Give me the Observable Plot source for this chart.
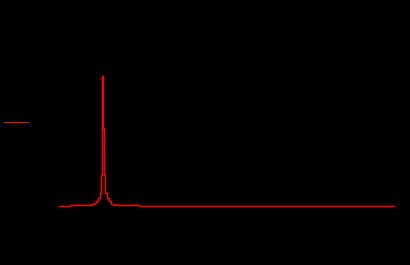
<!DOCTYPE html>
<html>
<head>
<meta charset="utf-8">
<script src="https://cdn.jsdelivr.net/npm/d3@7"></script>
<script src="https://cdn.jsdelivr.net/npm/@observablehq/plot@0.6"></script>
<style>
  html, body { margin: 0; padding: 0; background: #000; }
  #wrap { position: relative; width: 410px; height: 265px; background: #000; }
  #legend { position: absolute; left: 4px; top: 122px; width: 25px; height: 0; border-top: 1.5px solid #ff0000; }
</style>
</head>
<body>
<div id="wrap"><div id="legend"></div></div>
<script>
const freq  = [0, 3.28, 9.85, 10.45, 11.04, 11.64, 12.24, 12.54, 12.84, 13.13, 13.43, 13.73, 14.33, 14.93, 15.52, 16.42, 23.88, 100];
const power = [0, 0.008, 0.015, 0.023, 0.038, 0.062, 0.10, 0.24, 1.0, 0.60, 0.24, 0.10, 0.062, 0.038, 0.015, 0.008, 0, 0];
const data = freq.map((f, i) => ({f, p: power[i]}));

const chart = Plot.plot({
  width: 410,
  height: 265,
  margin: 0,
  style: {background: "#000"},
  x: {domain: [0, 100], range: [59, 394], axis: null},
  y: {domain: [0, 1], range: [206, 76], axis: null},
  marks: [
    Plot.line(data, {x: "f", y: "p", stroke: "#ff0000", strokeWidth: 1.5, curve: "step-after"})
  ]
});
chart.style.position = "absolute";
chart.style.left = "0";
chart.style.top = "0";
document.getElementById("wrap").prepend(chart);
</script>
</body>
</html>
